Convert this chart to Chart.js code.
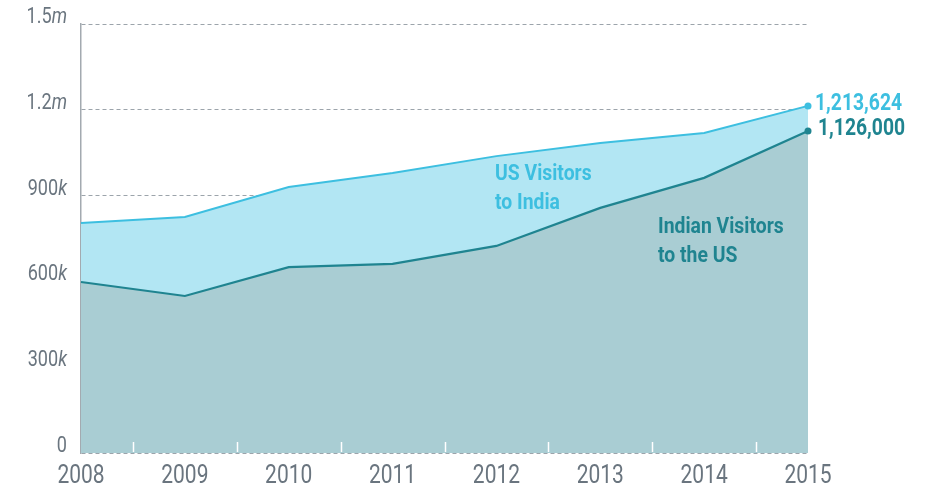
<!DOCTYPE html>
<html>
<head>
<meta charset="utf-8">
<script src="https://cdn.jsdelivr.net/npm/chart.js@4"></script>
<style>
  html, body { margin: 0; padding: 0; background: #fff; }
  #wrap { width: 934px; height: 489px; }
</style>
</head>
<body>
<div id="wrap"><canvas id="visitorsChart" width="934" height="489"></canvas></div>
<script>
const years = ['2008', '2009', '2010', '2011', '2012', '2013', '2014', '2015'];
const usToIndia = [804000, 825000, 930000, 979000, 1038000, 1084000, 1119000, 1213624];
const indiaToUs = [598000, 549000, 650000, 661000, 724000, 857000, 962000, 1126000];
const seriesNames = [['US Visitors', 'to India'], ['Indian Visitors', 'to the US']];
const endLabels = ['1,213,624', '1,126,000'];

const FONT = "Roboto, 'Liberation Sans', sans-serif";
const lightBlue = '#3dbfe0';
const teal = '#1f8490';
const axisText = '#6a757f';

// point only at the last year
const lastOnly = (r) => years.map((_, i) => i === years.length - 1 ? r : 0);

// narrow text: no condensed font here, so squeeze it a bit
function drawText(ctx, text, x, y, font, align, sx) {
    ctx.save();
    ctx.font = font;
    ctx.textAlign = align;
    ctx.translate(x, y);
    ctx.scale(sx, 1);
    ctx.fillText(text, 0, 0);
    const w = ctx.measureText(text).width * sx;
    ctx.restore();
    return w;
}

// labels, ticks and annotations
const labelsPlugin = {
    id: 'labels',
    afterDraw(chart) {
        const ctx = chart.ctx;
        const x = chart.scales.x;
        const y = chart.scales.y;
        const area = chart.chartArea;
        ctx.save();

        // white ticks between years
        ctx.strokeStyle = '#ffffff';
        ctx.lineWidth = 1.5;
        for (let i = 0; i < years.length - 1; i++) {
            const px = Math.round((x.getPixelForValue(i) + x.getPixelForValue(i + 1)) / 2) + 0.5;
            ctx.beginPath();
            ctx.moveTo(px, area.bottom - 1);
            ctx.lineTo(px, area.bottom - 11);
            ctx.stroke();
        }

        // x labels
        ctx.fillStyle = axisText;
        ctx.textBaseline = 'alphabetic';
        years.forEach((yr, i) => {
            drawText(ctx, yr, x.getPixelForValue(i), area.bottom + 30, '25px ' + FONT, 'center', 0.84);
        });

        // y labels, number + italic suffix
        y.ticks.forEach(t => {
            const v = t.value;
            let num, suf;
            if (v === 0) { num = '0'; suf = ''; }
            else if (v >= 1000000) { num = String(v / 1000000); suf = 'm'; }
            else { num = String(v / 1000); suf = 'k'; }
            const py = y.getPixelForValue(v) - 1;
            const right = 67;
            let sw = 0;
            if (suf) sw = drawText(ctx, suf, right, py, 'italic 22px ' + FONT, 'right', 0.82);
            drawText(ctx, num, right - sw, py, '22px ' + FONT, 'right', 0.82);
        });

        // end values
        ctx.textBaseline = 'middle';
        [usToIndia, indiaToUs].forEach((data, di) => {
            const last = data.length - 1;
            ctx.fillStyle = di === 0 ? lightBlue : teal;
            drawText(ctx, endLabels[di], x.getPixelForValue(last) + 7 + di * 3,
                y.getPixelForValue(data[last]) - 2, 'bold 23px ' + FONT, 'left', 0.84);
        });

        // series names inside the areas
        ctx.textBaseline = 'alphabetic';
        const nf = 'bold 22px ' + FONT;
        ctx.fillStyle = lightBlue;
        drawText(ctx, seriesNames[0][0], 495, 180, nf, 'left', 0.88);
        drawText(ctx, seriesNames[0][1], 495, 209, nf, 'left', 0.88);
        ctx.fillStyle = teal;
        drawText(ctx, seriesNames[1][0], 658, 233, nf, 'left', 0.88);
        drawText(ctx, seriesNames[1][1], 658, 262, nf, 'left', 0.88);

        ctx.restore();
    }
};

const ctx = document.getElementById('visitorsChart').getContext('2d');
new Chart(ctx, {
    type: 'line',
    data: {
        labels: years,
        datasets: [{
            label: 'US Visitors to India',
            data: usToIndia,
            borderColor: lightBlue,
            backgroundColor: '#b2e6f3',
            borderWidth: 2,
            fill: '+1',
            tension: 0,
            order: 2,
            pointRadius: lastOnly(3.5),
            pointBackgroundColor: lightBlue,
            pointBorderWidth: 0
        }, {
            label: 'Indian Visitors to the US',
            data: indiaToUs,
            borderColor: teal,
            backgroundColor: '#a9cdd3',
            borderWidth: 2.2,
            fill: 'origin',
            tension: 0,
            order: 1,
            pointRadius: lastOnly(3.5),
            pointBackgroundColor: teal,
            pointBorderWidth: 0
        }]
    },
    options: {
        responsive: false,
        animation: false,
        layout: { padding: { left: 81, right: 126, top: 24, bottom: 36 } },
        plugins: {
            legend: { display: false },
            tooltip: { enabled: false }
        },
        scales: {
            x: {
                ticks: { display: false },
                grid: { display: false, drawTicks: false },
                border: { display: false }
            },
            y: {
                min: 0,
                max: 1500000,
                z: 1,
                ticks: { display: false, stepSize: 300000 },
                grid: { color: '#9ca4ab', lineWidth: 1, drawTicks: false },
                border: { display: true, color: '#a3aab0', width: 1.5, dash: [4, 3] }
            }
        }
    },
    plugins: [labelsPlugin]
});
</script>
</body>
</html>
